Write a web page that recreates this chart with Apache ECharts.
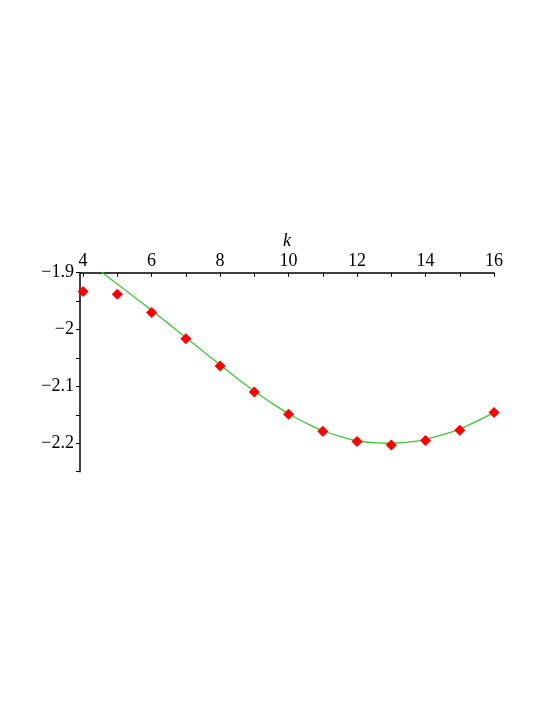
<!DOCTYPE html>
<html>
<head>
<meta charset="utf-8">
<script src="https://cdn.jsdelivr.net/npm/echarts@6/dist/echarts.min.js"></script>
<style>
html,body{margin:0;padding:0;background:#fff;}
#chart{width:545px;height:705px;}
</style>
</head>
<body>
<div id="chart"></div>
<script>
// data points (red diamonds)
var kValues = [4, 5, 6, 7, 8, 9, 10, 11, 12, 13, 14, 15, 16];
var pointValues = [-1.933, -1.938, -1.970, -2.016, -2.064, -2.110, -2.149, -2.179, -2.197, -2.203, -2.195, -2.177, -2.146];
// fitted curve (green)
var curveK = [4.52, 5, 5.5, 6, 6.5, 7, 7.5, 8, 8.5, 9, 9.5, 10, 10.5, 11, 11.5, 12, 12.5, 13, 13.5, 14, 14.5, 15, 15.5, 16];
var curveValues = [-1.898, -1.920, -1.943, -1.966, -1.990, -2.014, -2.038, -2.062, -2.086, -2.108, -2.129, -2.148, -2.164, -2.178, -2.188, -2.196, -2.199, -2.200, -2.198, -2.193, -2.185, -2.175, -2.161, -2.146];
// axis ticks and labels
var xTicks = [4, 5, 6, 7, 8, 9, 10, 11, 12, 13, 14, 15, 16];
var xLabels = [4, 6, 8, 10, 12, 14, 16];
var yLabels = [-1.9, -2, -2.1, -2.2];

var chart = echarts.init(document.getElementById('chart'));

function fmtY(v){
    var r = parseFloat(v.toFixed(2));
    for (var i = 0; i < yLabels.length; i++) {
        if (Math.abs(yLabels[i] - r) < 1e-6) return String(r).replace('-', '\u2212');
    }
    return '';
}

var font = 'Liberation Serif';

chart.setOption({
    animation: false,
    grid: {
        left: 80,
        right: 51,
        top: 272.7,
        height: 199
    },
    xAxis: {
        type: 'value',
        position: 'top',
        min: 3.91,
        max: 16,
        name: 'k',
        nameLocation: 'middle',
        nameGap: 22,
        nameTextStyle: {fontFamily: font, fontStyle: 'italic', fontSize: 18, color: '#000'},
        axisLine: {lineStyle: {color: '#000', width: 1.5}},
        axisTick: {inside: true, length: 4, customValues: xTicks, lineStyle: {color: '#000'}},
        axisLabel: {fontFamily: font, fontSize: 18, color: '#000', margin: 2, customValues: xLabels},
        splitLine: {show: false}
    },
    yAxis: {
        type: 'value',
        min: -2.25,
        max: -1.9,
        interval: 0.05,
        axisLine: {onZero: false, lineStyle: {color: '#000', width: 1.5}},
        axisTick: {length: 4, lineStyle: {color: '#000'}},
        axisLabel: {fontFamily: font, fontSize: 18, color: '#000', margin: 6, formatter: fmtY, showMinLabel: true, showMaxLabel: true},
        splitLine: {show: false}
    },
    series: [
        {
            type: 'line',
            data: curveK.map(function(k, i){ return [k, curveValues[i]]; }),
            smooth: 0.3,
            showSymbol: false,
            clip: true,
            lineStyle: {color: '#3cc83c', width: 1.3},
            z: 1
        },
        {
            type: 'scatter',
            data: kValues.map(function(k, i){ return [k, pointValues[i]]; }),
            symbol: 'diamond',
            symbolSize: 11,
            itemStyle: {color: '#ff0000', opacity: 1},
            z: 2
        }
    ]
});
</script>
</body>
</html>
